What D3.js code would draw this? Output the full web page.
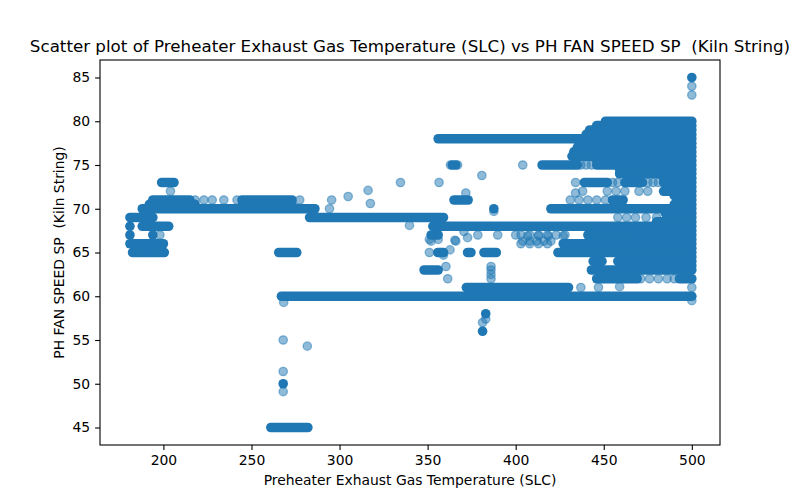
<!DOCTYPE html>
<html>
<head>
<meta charset="utf-8">
<script src="https://cdn.jsdelivr.net/npm/d3@7"></script>
<style>
	body { margin: 0; background: white; }
	text { font-family: 'DejaVu Sans', sans-serif; }
</style>
</head>
<body>
<div id="container"></div>
<script>
// dense runs of points: [fan speed, temperature from, temperature to]
let leftRuns = [
	[73, 199, 206], [71, 194, 215], [70.5, 192, 218], [71, 244.6, 273], [70.5, 245, 273],
	[70, 188, 286], [69, 181, 194], [68, 188, 203], [68, 181, 181], [67, 181, 181],
	[67, 194, 194], [66, 181, 200], [65, 182.5, 191], [65, 192, 200.5]
];
let midRuns = [
	[69, 283, 359], [68, 353, 500], [65, 265.5, 275.7], [60, 267, 500], [61, 372, 430],
	[45, 261, 282], [50, 268, 268], [78, 356, 500], [75, 415, 435], [71, 365, 373],
	[70, 387.6, 387.6], [67, 352, 356], [65, 355.8, 359], [65, 372.7, 374.6], [65, 382, 389],
	[63, 348, 356], [58, 383, 383], [56, 381.2, 381.2], [85, 500, 500], [75, 364, 366]
];
let rightRuns = [
	[80, 451, 500], [79.5, 446, 500], [79, 442, 500], [78.5, 440, 500], [77.5, 436, 500],
	[77, 435, 500], [76.5, 433, 500], [76, 432, 500], [75.5, 446, 500], [75, 446, 500],
	[74.5, 459, 500], [74, 459, 500], [73.5, 484, 500], [73, 439, 452], [73, 462, 472],
	[73, 484, 500], [72.5, 486, 500], [72, 484, 500], [71.5, 490, 500], [71, 455, 461],
	[71, 493, 500], [70.5, 490, 500], [70, 420, 500], [69.5, 485, 500], [69, 497, 500],
	[68.5, 480, 500], [67.5, 470, 500], [67, 441, 500], [66.5, 470, 500], [66, 427, 500],
	[65.5, 450, 500], [65, 424, 500], [64.5, 470, 500], [64, 444, 449], [64, 458, 500],
	[63.5, 460, 500], [63, 443, 500], [62, 446, 469], [62, 493, 500]
];
// single observations: [temperature, fan speed]
let leftPoints = [
	[198, 67], [204, 72], [218, 71], [223, 71], [227.7, 71], [234.3, 71], [241.8, 71],
	[277.4, 71], [295.5, 71], [304.9, 71.4], [316.2, 72.1], [317.5, 70.6], [294.3, 70],
	[334.6, 73], [339.7, 68.1], [268.3, 59.3], [268, 55], [281.7, 54.3], [268, 51.4], [268, 49.1]
];
let midPoints = [
	[351, 66.5], [356, 66.5], [365.5, 66.4], [372.7, 66.7], [370.6, 67.4], [378.5, 67],
	[389.8, 67], [400, 67], [406.8, 66.9], [413, 66.9], [418.6, 66.9], [427, 66.9],
	[404, 66.3], [408, 66.3], [412, 66.3], [416, 66.3], [420, 66.3], [366, 66.3], [352, 66.3],
	[351, 65], [362.7, 65.3], [359, 64.7], [360.4, 63.4], [361.4, 62], [386, 62], [386, 62.5],
	[386, 63], [386, 63.4], [387.6, 69.7], [363, 75], [367, 75], [404, 75], [380.8, 73.8],
	[356.5, 73], [371.7, 71.8], [381.2, 57], [383, 57.4]
];
let rightPoints = [
	[434, 73], [434, 71.8], [431, 71], [436, 71], [441, 71], [446, 71], [451, 71],
	[437, 75], [440, 75], [443, 75], [403, 67], [408, 67], [413, 67], [418, 67], [423, 67],
	[428, 67], [403, 66], [408, 66], [413, 66], [418, 66], [463, 64], [459, 61.1], [437, 61],
	[447, 61], [471, 62], [476, 62], [481, 62], [486, 62], [490, 62], [455, 73], [458, 73],
	[475, 73], [478, 73], [481, 73], [438, 72], [452, 72], [457, 72], [462, 72], [470, 72],
	[475, 72], [458, 69], [463, 69], [468, 69], [474, 69], [480, 69], [486, 69], [491, 69],
	[500, 84], [500, 83], [500, 61], [500, 59.5]
];
let xTicks = [200, 250, 300, 350, 400, 450, 500];
let yTicks = [45, 50, 55, 60, 65, 70, 75, 80, 85];

window.onload = function () {
	'use strict';
	let options = {
		width: 800,
		height: 500,
		left: 100, right: 720, top: 60, bottom: 445,
		color: '#1f77b4'
	};

	let svg = d3.select('#container')
		.append('svg')
		.attr('width', options.width)
		.attr('height', options.height);

	let x = d3.scaleLinear().domain([164, 516]).range([options.left, options.right]);
	let y = d3.scaleLinear().domain([43, 87]).range([options.bottom, options.top]);

	let plot = svg.append('g');

	let runs = leftRuns.concat(midRuns, rightRuns);
	let points = leftPoints.concat(midPoints, rightPoints);

	plot.selectAll('circle')
		.data(points)
		.enter()
		.append('circle')
		.attr('cx', d => x(d[0]))
		.attr('cy', d => y(d[1]))
		.attr('r', 4.2)
		.attr('fill', options.color)
		.attr('fill-opacity', 0.5)
		.attr('stroke', options.color)
		.attr('stroke-opacity', 0.5)
		.attr('stroke-width', 1.3);

	plot.selectAll('line.run')
		.data(runs)
		.enter()
		.append('line')
		.attr('class', 'run')
		.attr('x1', d => x(d[1]))
		.attr('x2', d => x(d[2]))
		.attr('y1', d => y(d[0]))
		.attr('y2', d => y(d[0]))
		.attr('stroke', options.color)
		.attr('stroke-width', 9.6)
		.attr('stroke-linecap', 'round');

	// axes
	let xAxis = d3.axisBottom(x).tickValues(xTicks).tickSize(4.9).tickPadding(4.9).tickSizeOuter(0);
	let yAxis = d3.axisLeft(y).tickValues(yTicks).tickSize(4.9).tickPadding(4.9).tickSizeOuter(0);

	let gx = svg.append('g')
		.attr('transform', 'translate(0,' + options.bottom + ')')
		.call(xAxis);
	let gy = svg.append('g')
		.attr('transform', 'translate(' + options.left + ',0)')
		.call(yAxis);
	[gx, gy].forEach(g => {
		g.select('.domain').remove();
		g.selectAll('line').attr('stroke', 'black').attr('stroke-width', 1.1);
		g.selectAll('text').attr('font-size', '13.9px').attr('fill', 'black')
			.attr('font-family', "'DejaVu Sans', sans-serif");
	});

	svg.append('rect')
		.attr('x', options.left)
		.attr('y', options.top)
		.attr('width', options.right - options.left)
		.attr('height', options.bottom - options.top)
		.attr('fill', 'none')
		.attr('stroke', 'black')
		.attr('stroke-width', 1.1);

	let cx = (options.left + options.right) / 2;
	svg.append('text')
		.attr('x', cx)
		.attr('y', 52)
		.attr('text-anchor', 'middle')
		.attr('font-size', '16.7px')
		.style('white-space', 'pre')
		.text('Scatter plot of Preheater Exhaust Gas Temperature (SLC) vs PH FAN SPEED SP  (Kiln String)');

	svg.append('text')
		.attr('x', cx)
		.attr('y', 485)
		.attr('text-anchor', 'middle')
		.attr('font-size', '13.9px')
		.text('Preheater Exhaust Gas Temperature (SLC)');

	svg.append('text')
		.attr('transform', 'translate(64,' + (options.top + options.bottom) / 2 + ') rotate(-90)')
		.attr('text-anchor', 'middle')
		.attr('font-size', '13.9px')
		.style('white-space', 'pre')
		.text('PH FAN SPEED SP  (Kiln String)');
};
</script>
</body>
</html>
